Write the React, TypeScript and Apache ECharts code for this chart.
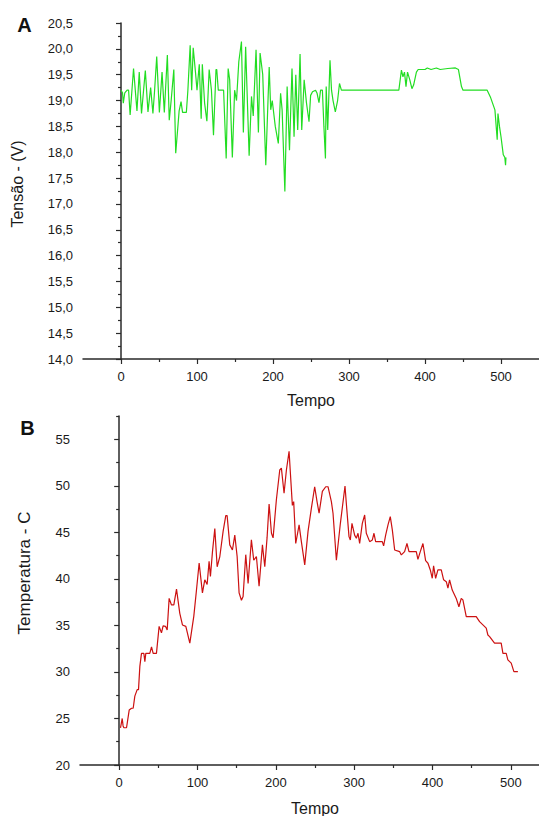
import React, { useEffect, useRef } from "react";
import * as echarts from "echarts";

const voltageTime = [0, 2, 3, 5, 8, 10, 12, 16.5, 21, 24, 27, 32, 35.5, 39, 42, 44, 47, 50.5, 54, 57, 61, 63.5, 66, 69.5, 72, 76.5, 79, 81, 86, 88, 91, 93, 95, 98, 100, 103, 105.5, 107, 110, 113, 116, 119, 121.7, 125, 126, 128, 135, 138.4, 141, 143, 146.5, 149.5, 152, 155, 158.5, 161, 164, 168.6, 171.7, 174, 177.7, 180.8, 183, 186.5, 190.5, 193.6, 195, 197, 199, 203, 207, 210, 212, 215.6, 218.6, 221.7, 225, 227.7, 230, 232.5, 235.6, 237.8, 241, 244, 247.4, 249.5, 252, 256, 258, 260.5, 262.6, 265, 267, 269, 270, 272, 275, 277, 279, 282, 285, 287.5, 290, 365.6, 369, 371, 373, 375, 377, 380, 382.8, 385, 388.7, 391, 400, 403, 408, 415, 420, 430, 440, 444, 448, 450, 481.8, 486, 492, 495, 496, 498, 500, 503, 505, 506, 506.5];
const voltageValues = [19.2, 19.15, 18.95, 19.15, 19.2, 19.2, 18.72, 19.62, 18.8, 19.55, 18.75, 19.58, 18.78, 19.25, 18.75, 19.15, 19.85, 18.77, 19.55, 18.77, 19.88, 18.62, 19.0, 19.6, 17.98, 18.8, 18.98, 18.77, 18.77, 19.2, 20.07, 19.2, 20.02, 19.55, 19.2, 19.7, 18.65, 19.7, 18.95, 18.6, 19.6, 19.2, 18.33, 19.6, 19.6, 19.2, 19.2, 17.88, 19.62, 19.4, 17.9, 19.2, 19.0, 19.75, 20.14, 18.38, 20.04, 17.93, 19.08, 18.7, 19.98, 18.38, 19.92, 19.5, 17.75, 19.08, 19.65, 18.82, 19.0, 18.5, 18.17, 19.14, 18.82, 17.24, 19.27, 18.04, 19.62, 18.3, 19.5, 18.43, 19.9, 18.43, 19.4, 18.96, 18.59, 19.1, 19.17, 19.2, 19.14, 18.96, 19.2, 19.2, 18.49, 17.88, 19.27, 18.43, 19.78, 19.2, 19.0, 18.78, 19.0, 19.33, 19.2, 19.2, 19.59, 19.46, 19.55, 19.27, 19.55, 19.4, 19.23, 19.3, 19.55, 19.6, 19.6, 19.63, 19.6, 19.63, 19.6, 19.62, 19.63, 19.6, 19.27, 19.2, 19.2, 19.07, 18.82, 18.24, 18.75, 18.5, 18.3, 17.95, 17.9, 17.75, 17.9];

const temperatureTime = [1.7, 3.9, 5, 6, 9.4, 12.8, 15.8, 17.9, 20, 23, 24.7, 26.4, 28.5, 31.5, 32.8, 34, 39.1, 41.3, 43.4, 47.6, 51, 54, 56.1, 59.1, 61.3, 63.8, 66.8, 69.8, 73.2, 77.4, 80.8, 85.1, 90.2, 95.3, 98.7, 102.1, 106.3, 109.3, 112.3, 114.8, 116.5, 119.1, 122.1, 125.1, 128.5, 132.7, 136.1, 137.8, 141.2, 144.6, 147.6, 150.6, 153.1, 156.1, 158.2, 161.6, 164.6, 168.8, 171.8, 175.2, 178.6, 182.9, 185.9, 188.8, 191.4, 194.4, 196.5, 200.7, 205, 207.1, 210.5, 213.5, 216.9, 218.6, 221.1, 222.8, 225.4, 229.7, 232.6, 236.9, 241.1, 245.4, 249.6, 252.6, 255.2, 259.4, 263.7, 266.6, 270.9, 273, 277.3, 282.4, 288.3, 290, 293.4, 295.1, 297.2, 300.6, 302.8, 304.9, 307, 310.4, 313.4, 315.5, 319.8, 323.2, 325.3, 327.4, 335.9, 337.6, 340.2, 343.2, 346.1, 348.7, 351.7, 358, 360.2, 364.4, 367.4, 370, 379.3, 381.4, 384.4, 387.8, 391.2, 394.2, 397.2, 399.7, 401.4, 404, 406.9, 411.2, 414.2, 417.6, 419.7, 421.8, 425.2, 430.3, 433.7, 436.7, 438.8, 443.1, 451.6, 455.8, 460.1, 468.6, 470.7, 472.9, 479.2, 487.7, 489.9, 494.1, 496.2, 500.5, 503.9, 509];
const temperatureValues = [24.0, 25.0, 24.2, 24.0, 24.0, 25.9, 26.1, 26.1, 27.4, 28.1, 28.1, 30.6, 32.0, 32.0, 31.1, 32.0, 32.0, 32.7, 32.0, 32.0, 34.9, 34.2, 34.95, 34.9, 34.5, 37.9, 37.2, 37.2, 38.9, 36.3, 35.05, 34.9, 33.1, 36.0, 38.8, 41.7, 38.5, 39.9, 39.4, 41.9, 40.25, 42.9, 45.4, 41.3, 42.4, 45.1, 46.8, 46.8, 43.65, 43.1, 44.7, 42.4, 38.5, 37.7, 38.1, 42.6, 39.5, 44.2, 42.0, 42.4, 39.2, 43.65, 41.3, 44.4, 48.05, 44.9, 44.4, 48.5, 51.7, 51.9, 49.2, 51.7, 53.7, 51.35, 47.9, 48.3, 43.8, 45.8, 44.0, 41.5, 45.1, 47.6, 49.9, 48.3, 47.05, 49.4, 49.9, 49.9, 48.3, 47.05, 42.0, 45.97, 49.98, 48.1, 44.54, 44.18, 45.97, 44.7, 44.36, 44.9, 43.8, 45.97, 46.87, 44.9, 44.0, 44.18, 44.9, 44.0, 44.0, 43.54, 44.7, 45.8, 46.69, 45.26, 43.1, 42.93, 42.57, 42.93, 43.8, 42.93, 42.93, 42.1, 42.93, 43.8, 41.96, 41.68, 40.96, 40.06, 41.4, 40.06, 40.96, 40.96, 39.9, 39.7, 39.0, 39.9, 38.8, 37.9, 37.0, 37.9, 37.74, 35.95, 35.95, 35.95, 35.4, 34.7, 33.97, 33.8, 33.1, 33.1, 32.0, 32.0, 31.3, 30.94, 30.04, 30.04];

const timeMajorTicks = [0, 100, 200, 300, 400, 500];
const timeMinorTicks = [50, 150, 250, 350, 450];
const tempMajorTicks = [20, 25, 30, 35, 40, 45, 50, 55];
const tempMinorTicks = [22.5, 27.5, 32.5, 37.5, 42.5, 47.5, 52.5, 57.5];

const FONT = "'Liberation Sans', Arial, sans-serif";
const AXIS_COLOR = "#2a2a2a";
const TEXT_COLOR = "#1a1a1a";

export default function App() {
  const ref = useRef<HTMLDivElement>(null);
  useEffect(() => {
    if (!ref.current) return;
    const chart = echarts.init(ref.current, null, { renderer: "svg" });
    const axisLine = { show: true, lineStyle: { color: AXIS_COLOR, width: 1.5 } };
    const label = { color: TEXT_COLOR, fontSize: 13, fontFamily: FONT };
    const nameStyle = { color: TEXT_COLOR, fontSize: 16, fontFamily: FONT };
    const minorX = (gridIndex: number) => ({
      type: "value",
      gridIndex,
      position: "bottom",
      min: -50,
      max: 550,
      axisLine: { show: false },
      axisLabel: { show: false },
      splitLine: { show: false },
      axisTick: { show: true, customValues: timeMinorTicks, length: 3, lineStyle: { color: AXIS_COLOR, width: 1.2 } },
    });
    const option: any = {
      animation: false,
      backgroundColor: "#ffffff",
      grid: [
        { left: 83, top: 23, width: 456, height: 336, containLabel: false, outerBoundsMode: "none" },
        { left: 80, top: 416, width: 470, height: 349, containLabel: false, outerBoundsMode: "none" },
      ],
      xAxis: [
        {
          type: "value",
          gridIndex: 0,
          position: "bottom",
          min: -50,
          max: 550,
          axisLine,
          splitLine: { show: false },
          axisTick: { show: true, customValues: timeMajorTicks, length: 5, lineStyle: { color: AXIS_COLOR, width: 1.2 } },
          axisLabel: { ...label, customValues: timeMajorTicks, margin: 11 },
          name: "Tempo",
          nameLocation: "middle",
          nameGap: 33,
          nameTextStyle: nameStyle,
        },
        minorX(0),
        {
          type: "value",
          gridIndex: 1,
          position: "bottom",
          min: -50,
          max: 550,
          axisLine,
          splitLine: { show: false },
          axisTick: { show: true, customValues: timeMajorTicks, length: 5, lineStyle: { color: AXIS_COLOR, width: 1.2 } },
          axisLabel: { ...label, customValues: timeMajorTicks, margin: 11 },
          name: "Tempo",
          nameLocation: "middle",
          nameGap: 35,
          nameTextStyle: nameStyle,
        },
        minorX(1),
      ],
      yAxis: [
        {
          type: "value",
          gridIndex: 0,
          position: "left",
          min: 14,
          max: 20.5,
          interval: 0.5,
          axisLine,
          splitLine: { show: false },
          axisTick: { show: true, length: 5, lineStyle: { color: AXIS_COLOR, width: 1.2 } },
          minorTick: { show: true, splitNumber: 2, length: 3, lineStyle: { color: AXIS_COLOR, width: 1.2 } },
          minorSplitLine: { show: false },
          axisLabel: { ...label, margin: 10, formatter: (v: number) => v.toFixed(1).replace(".", ",") },
        },
        {
          type: "value",
          gridIndex: 1,
          position: "left",
          min: 20,
          max: 57.5,
          axisLine,
          splitLine: { show: false },
          axisTick: { show: true, customValues: tempMajorTicks, length: 5, lineStyle: { color: AXIS_COLOR, width: 1.2 } },
          axisLabel: { ...label, customValues: tempMajorTicks, margin: 10 },
        },
        {
          type: "value",
          gridIndex: 1,
          position: "left",
          min: 20,
          max: 57.5,
          axisLine: { show: false },
          splitLine: { show: false },
          axisLabel: { show: false },
          axisTick: { show: true, customValues: tempMinorTicks, length: 3, lineStyle: { color: AXIS_COLOR, width: 1.2 } },
        },
      ],
      series: [
        {
          type: "line",
          xAxisIndex: 0,
          yAxisIndex: 0,
          data: voltageTime.map((t, i) => [t, voltageValues[i]]),
          showSymbol: false,
          lineStyle: { color: "#22dd22", width: 1.2 },
          itemStyle: { color: "#22dd22" },
        },
        {
          type: "line",
          xAxisIndex: 2,
          yAxisIndex: 1,
          data: temperatureTime.map((t, i) => [t, temperatureValues[i]]),
          showSymbol: false,
          lineStyle: { color: "#cc1111", width: 1.2 },
          itemStyle: { color: "#cc1111" },
        },
      ],
      graphic: [
        { type: "text", x: 24.5, y: 25, style: { text: "A", fontSize: 20, fontWeight: "bold", fontFamily: FONT, fill: "#111", textAlign: "center", textVerticalAlign: "middle" } },
        { type: "text", x: 27.5, y: 428, style: { text: "B", fontSize: 20, fontWeight: "bold", fontFamily: FONT, fill: "#111", textAlign: "center", textVerticalAlign: "middle" } },
        { type: "text", x: 17, y: 184, rotation: Math.PI / 2, style: { text: "Tensão - (V)", fontSize: 16, fontFamily: FONT, fill: TEXT_COLOR, textAlign: "center", textVerticalAlign: "middle" } },
        { type: "text", x: 24, y: 573, rotation: Math.PI / 2, style: { text: "Temperatura - C", fontSize: 17, fontFamily: FONT, fill: TEXT_COLOR, textAlign: "center", textVerticalAlign: "middle" } },
      ],
    };
    chart.setOption(option);
    return () => chart.dispose();
  }, []);
  return <div ref={ref} style={{ position: "fixed", left: 0, top: 0, width: 539, height: 816, background: "#fff" }} />;
}
